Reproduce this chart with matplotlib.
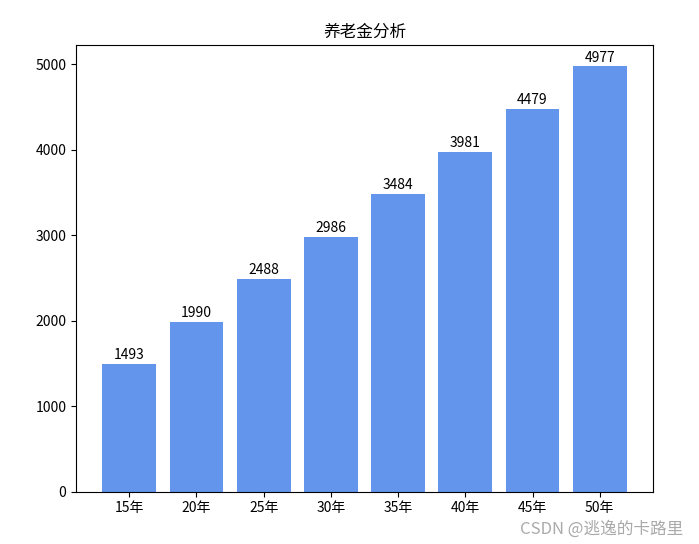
import matplotlib
matplotlib.use("Agg")
import matplotlib.pyplot as plt

plt.rcParams['font.family'] = ['Noto Sans CJK SC', 'DejaVu Sans']

categories = ["15年", "20年", "25年", "30年", "35年", "40年", "45年", "50年"]
values = [1493, 1990, 2488, 2986, 3484, 3981, 4479, 4977]

fig = plt.figure(figsize=(6.99, 5.44), dpi=100)
ax = fig.add_axes([0.109, 0.096, 0.825, 0.821])
bars = ax.bar(categories, values, color='cornflowerblue', width=0.8)
for b, v in zip(bars, values):
    ax.text(b.get_x() + b.get_width() / 2, v + 20, str(v), ha='center', va='bottom', fontsize=10)
ax.set_title("养老金分析", fontsize=12)
ax.tick_params(labelsize=10)
fig.text(0.978, 0.012, "CSDN @逃逸的卡路里", ha='right', va='bottom', fontsize=12, color='#aaaaaa')
fig.savefig("out.png", dpi=100)
